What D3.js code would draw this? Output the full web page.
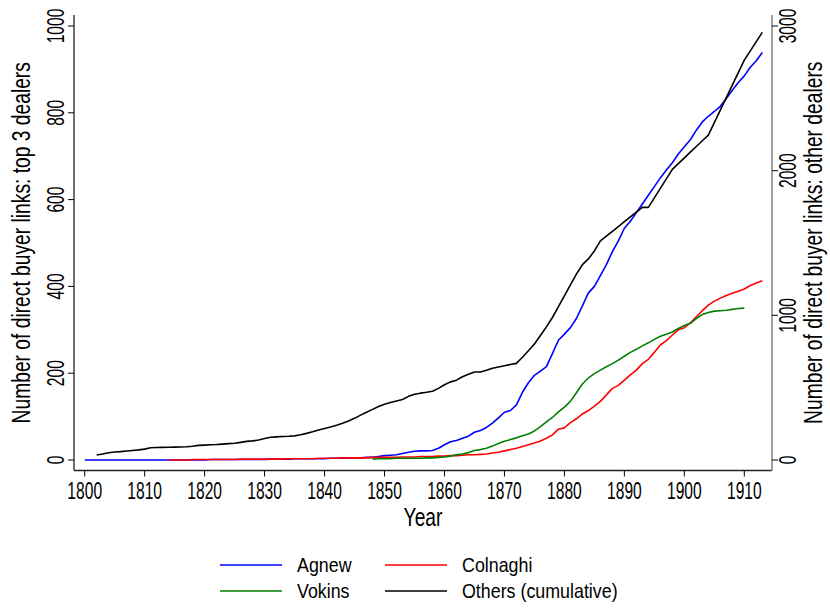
<!DOCTYPE html>
<html><head><meta charset="utf-8">
<script src="https://cdn.jsdelivr.net/npm/d3@7"></script>
<style>body{margin:0;background:#fff} text{font-family:"Liberation Sans",Arial,sans-serif;fill:#000}</style>
</head><body><svg id="c" width="830" height="609"></svg>
<script>
// ---- data ----
const agnewStart = 1800;
const agnew = [0,0,0,0,0,0,0,0,0,0, 0,0,0,0,0,0,0,0,0,0, 0,
  1,1,1,1,1,1,1,1,1,1,
  2,2,2,2,3,3,3,3,3,3,
  4,4,4,5,5,5,6,6,
  8,10,11,12,15,18,20,21,21,22,
  27,35,42,45,50,55,64,68,75,85,
  97,110,114,127,156,178,195,205,215,245,
  276,290,305,326,355,385,400,425,450,480,
  505,534,550,570,590,610,630,650,668,685,
  705,722,738,760,779,792,803,815,833,852,
  870,885,905,920,939];
const colnaghiStart = 1814;
const colnaghi = [0,0,0,0,1,1,1,1,1,1,
  1,1,2,2,2,2,2,2,2,2,
  3,3,3,3,3,4,4,4,4,5,
  5,5,5,5,6,6,6,6,6,7,
  7,7,8,8,8,9,9,10,10,11,
  12,12,13,14,16,18,21,24,27,31,
  35,39,44,50,58,71,74,86,95,106,
  114,124,135,150,165,172,184,196,207,222,
  232,248,265,275,288,300,305,316,330,344,
  357,366,373,379,384,389,394,402,408,413];
const vokinsStart = 1848;
const vokins = [2,3,3,3,4,4,4,4,4,5,
  5,6,7,9,12,14,17,22,24,27,
  32,38,43,47,51,56,60,67,77,88,
  98,111,122,135,155,175,189,199,207,215,
  222,230,239,248,255,263,270,278,285,290,
  295,303,310,315,326,335,340,343,344,345,
  347,349,350];
const othersStart = 1802;
const others = [35,42,50,55,58,62,66,70,75,85,
  86,87,88,89,90,92,95,101,103,105,
  107,110,113,116,122,129,132,138,148,157,
  160,162,164,167,174,184,195,208,218,228,
  240,254,270,288,310,330,350,370,385,397,
  408,418,440,455,462,468,475,495,520,540,
  552,575,593,608,608,620,634,643,652,660,
  668,710,755,802,860,920,985,1060,1135,1210,
  1285,1350,1390,1445,1515,1548,1581,1614,1647,1680,
  1713,1746,1746,1812,1878,1943,2009,2049,2088,2128,
  2167,2207,2246,2332,2419,2505,2591,2678,2764,2828,
  2892,2956];
const xTicks = [1800,1810,1820,1830,1840,1850,1860,1870,1880,1890,1900,1910];
const yLeftTicks = [0,200,400,600,800,1000];
const yRightTicks = [0,1000,2000,3000];
const legendLabels = ["Agnew","Colnaghi","Vokins","Others (cumulative)"];
const colors = {Agnew:"#0000ff", Colnaghi:"#ff0000", Vokins:"#008000", Others:"#000000"};

// ---- layout ----
const svg = d3.select("#c");
const L = 74, R = 772, T = 15, B = 470.5;
const x = d3.scaleLinear().domain([1800,1910]).range([84.7,744.3]);
const yL = d3.scaleLinear().domain([0,1000]).range([460,26]);
const yR = d3.scaleLinear().domain([0,3000]).range([460,26]);
const TICK_FS = 24, TICK_SX = 0.65;
const TITLE_FS = 26, TITLE_SX = 0.74;

function series(start, vals){ return vals.map((v,i)=>({yr:start+i, v})); }

// axes lines
svg.append("line").attr("x1",L).attr("x2",L).attr("y1",T).attr("y2",B).attr("stroke","#222").attr("stroke-width",1.3);
svg.append("line").attr("x1",L).attr("x2",R).attr("y1",B).attr("y2",B).attr("stroke","#222").attr("stroke-width",1.3);
svg.append("line").attr("x1",R).attr("x2",R).attr("y1",T).attr("y2",B).attr("stroke","#888").attr("stroke-width",1.6);

// x axis
const gx = svg.append("g");
gx.selectAll("line").data(xTicks).join("line")
  .attr("x1",d=>x(d)).attr("x2",d=>x(d)).attr("y1",B).attr("y2",B+6).attr("stroke","#000");
gx.selectAll("text").data(xTicks).join("text")
  .attr("transform",d=>`translate(${x(d)},${B+28}) scale(${TICK_SX},1)`)
  .attr("text-anchor","middle").style("font-size",TICK_FS+"px").text(d=>d);

// left axis
const gl = svg.append("g");
gl.selectAll("line").data(yLeftTicks).join("line")
  .attr("x1",L-6).attr("x2",L).attr("y1",d=>yL(d)).attr("y2",d=>yL(d)).attr("stroke","#000");
gl.selectAll("text").data(yLeftTicks).join("text")
  .attr("transform",d=>`translate(${L-10},${yL(d)}) rotate(-90) scale(${TICK_SX},1)`)
  .attr("text-anchor","middle").style("font-size",TICK_FS+"px").text(d=>d);

// right axis
const gr = svg.append("g");
gr.selectAll("line").data(yRightTicks).join("line")
  .attr("x1",R).attr("x2",R+6).attr("y1",d=>yR(d)).attr("y2",d=>yR(d)).attr("stroke","#000");
gr.selectAll("text").data(yRightTicks).join("text")
  .attr("transform",d=>`translate(${R+24},${yR(d)}) rotate(-90) scale(${TICK_SX},1)`)
  .attr("text-anchor","middle").style("font-size",TICK_FS+"px").text(d=>d);

// titles
svg.append("text").attr("transform",`translate(${(L+R)/2},${B+55}) scale(${TITLE_SX},1)`)
  .attr("text-anchor","middle").style("font-size",TITLE_FS+"px").text("Year");
svg.append("text").attr("transform",`translate(30,${(T+B)/2}) rotate(-90) scale(${TITLE_SX},1)`)
  .attr("text-anchor","middle").style("font-size",TITLE_FS+"px").text("Number of direct buyer links: top 3 dealers");
svg.append("text").attr("transform",`translate(822,${(T+B)/2}) rotate(-90) scale(${TITLE_SX},1)`)
  .attr("text-anchor","middle").style("font-size",TITLE_FS+"px").text("Number of direct buyer links: other dealers");

// lines
const lineL = d3.line().x(d=>x(d.yr)).y(d=>yL(d.v));
const lineR = d3.line().x(d=>x(d.yr)).y(d=>yR(d.v));
const drawn = [
  {name:"Agnew", data:series(agnewStart,agnew), gen:lineL},
  {name:"Colnaghi", data:series(colnaghiStart,colnaghi), gen:lineL},
  {name:"Vokins", data:series(vokinsStart,vokins), gen:lineL},
  {name:"Others", data:series(othersStart,others), gen:lineR}
];
svg.append("g").selectAll("path").data(drawn).join("path")
  .attr("d",d=>d.gen(d.data)).attr("fill","none")
  .attr("stroke",d=>colors[d.name]).attr("stroke-width",1.6).attr("stroke-linejoin","round");

// legend
const legPos = [[220,565],[385,565],[220,591],[385,591]];
const legKeys = ["Agnew","Colnaghi","Vokins","Others"];
const lg = svg.append("g").selectAll("g").data(legendLabels).join("g")
  .attr("transform",(d,i)=>`translate(${legPos[i][0]},${legPos[i][1]})`);
lg.append("line").attr("x1",0).attr("x2",62).attr("y1",0).attr("y2",0)
  .attr("stroke",(d,i)=>colors[legKeys[i]]).attr("stroke-width",1.6);
lg.append("text").attr("transform",`translate(77,7) scale(0.85,1)`)
  .style("font-size","21px").text(d=>d);
</script></body></html>
